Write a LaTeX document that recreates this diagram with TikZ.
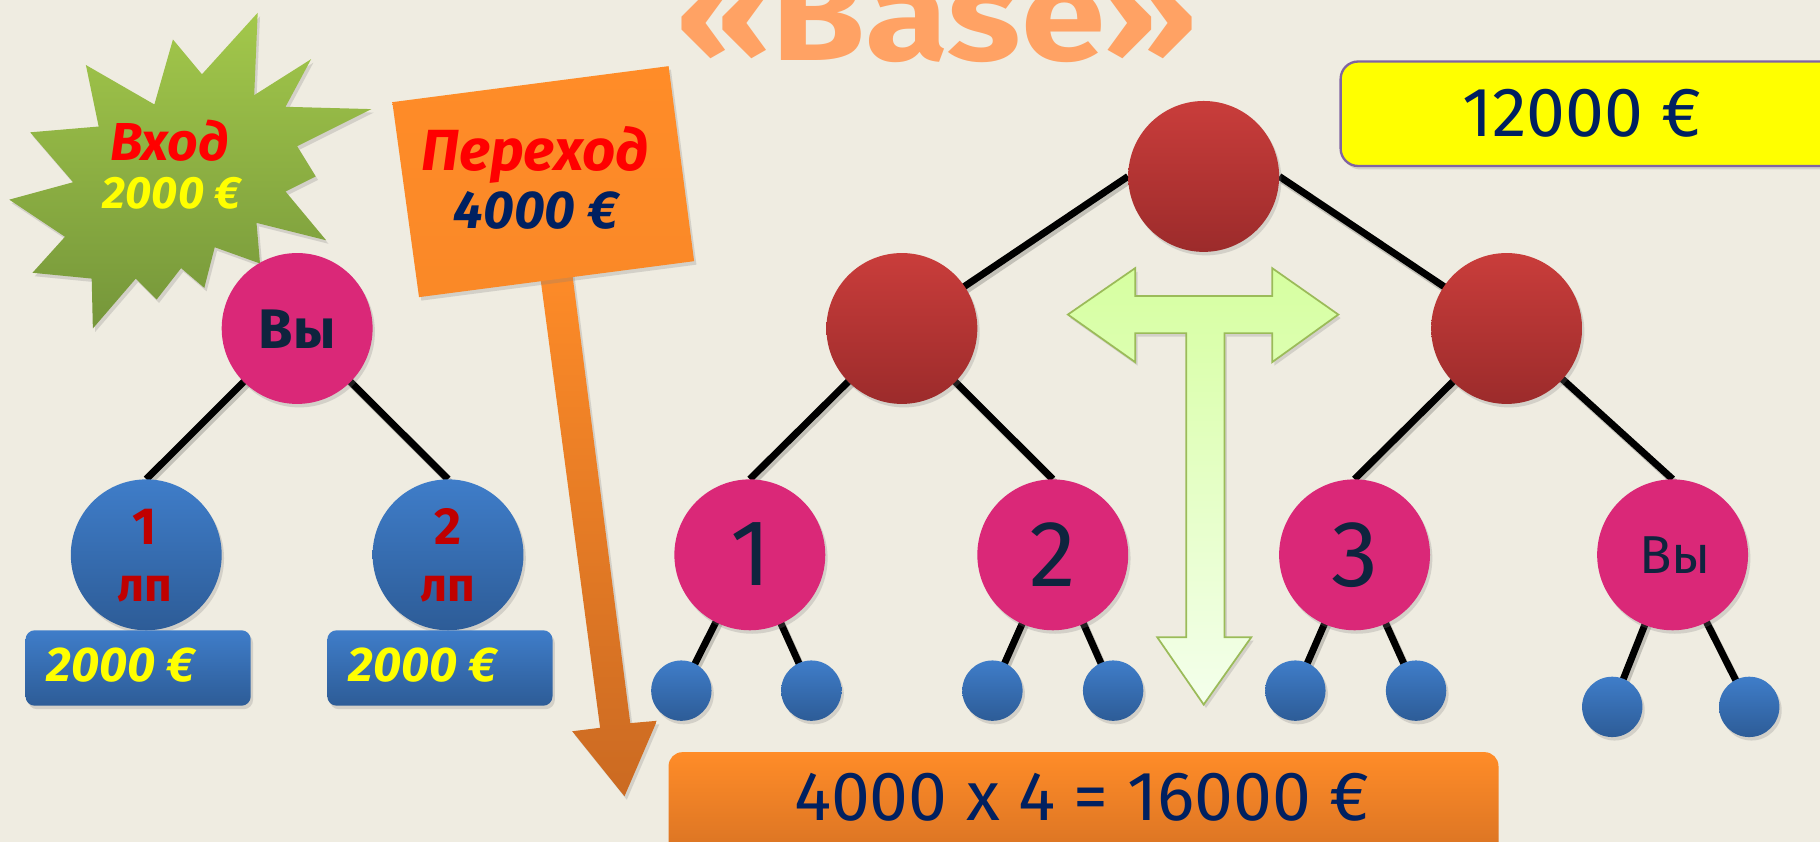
\documentclass[tikz,border=0pt]{standalone}
\usepackage{fontspec}
\setmainfont{Fira Sans}
\usetikzlibrary{shadows}
\definecolor{cBg}{HTML}{EFECE1}
\definecolor{cTitle}{HTML}{FFA264}
\definecolor{cPink}{HTML}{DA2878}
\definecolor{cRedT}{HTML}{C93D3B}
\definecolor{cRedB}{HTML}{9C2B2B}
\definecolor{cBlueT}{HTML}{3F7DC9}
\definecolor{cBlueB}{HTML}{2D5C97}
\definecolor{cNavy}{HTML}{002060}
\definecolor{cDark}{HTML}{0F243E}
\definecolor{cDRed}{HTML}{C00000}
\definecolor{cRed}{HTML}{FF0000}
\definecolor{cYel}{HTML}{FFFF00}
\definecolor{cPurple}{HTML}{8064A2}
\definecolor{cOrT}{HTML}{FF8C28}
\definecolor{cOrB}{HTML}{CB6A22}
\definecolor{cGrT}{HTML}{A3C84B}
\definecolor{cGrB}{HTML}{75963A}
\definecolor{cLgT}{HTML}{D6FFA0}
\definecolor{cLgB}{HTML}{F4FFEC}
\definecolor{cLgLine}{HTML}{9BBB59}
\pgfdeclarelayer{bglayer}
\pgfdeclarelayer{edgelayer}
\pgfsetlayers{bglayer,edgelayer,main}
\begin{document}
\begin{tikzpicture}[x=1pt,y=-1pt,
  myshadow/.style={drop shadow={shadow xshift=2pt,shadow yshift=-3pt,opacity=0.25}},
  edge/.style={line width=6pt,black,preaction={draw=black,opacity=0.18,line width=6pt,transform canvas={shift={(2pt,-3pt)}}}},
  pinkball/.style={circle,inner sep=0pt,minimum size=130pt,fill=cPink,myshadow},
  redball/.style={circle,inner sep=0pt,minimum size=130pt,top color=cRedT,bottom color=cRedB,myshadow},
  blueball/.style={circle,inner sep=0pt,minimum size=130pt,top color=cBlueT,bottom color=cBlueB,myshadow},
  smallball/.style={circle,inner sep=0pt,minimum size=52pt,top color=cBlueT,bottom color=cBlueB,myshadow},
  bluebox/.style={rectangle,rounded corners=8pt,inner sep=0pt,minimum width=194pt,minimum height=65pt,top color=cBlueT,bottom color=cBlueB,myshadow},
  txt/.style={inner sep=0pt,anchor=base}]
\clip (0,0) rectangle (1568,725);
\begin{pgfonlayer}{bglayer}
\fill[cBg] (0,0) rectangle (1568,725);
\node[txt,text=cTitle,font=\bfseries\fontsize{112}{112}\selectfont] (title) at (807,52) {\scalebox{1.17}[1]{«Base»}};
% star
\path[top color=cGrT,bottom color=cGrB,myshadow] (222,11) -- (219,82) -- (268,51) -- (246,92) -- (320,94) -- (256,126) -- (272,152) -- (246,165) -- (281,207) -- (221,192) -- (224,227) -- (185,213) -- (176,248) -- (156,231) -- (135,258) -- (117,240) -- (80,283) -- (79,240) -- (28,235) -- (56,204) -- (8,172) -- (63,157) -- (26,114) -- (85,109) -- (74,56) -- (133,90) -- (149,34) -- (174,64) -- cycle;
\end{pgfonlayer}
\node[txt,text=cRed,font=\bfseries\itshape\fontsize{46}{48}\selectfont] (vhod) at (146,138) {Вход};
\node[txt,text=cYel,font=\bfseries\itshape\fontsize{39}{40}\selectfont] (vhodsum) at (148,180) {2000 €};
% left tree
\node[pinkball] (vyL) at (256,283) {};
\node[blueball] (b1) at (126,478) {};
\node[blueball] (b2) at (386,478) {};
\node[txt,text=cDark,font=\bfseries\fontsize{48}{48}\selectfont] (vyLt) at (256,300) {Вы};
\node[txt,text=cDRed,font=\bfseries\fontsize{45}{45}\selectfont] (b1n) at (125,469) {1};
\node[txt,text=cDRed,font=\bfseries\fontsize{41}{41}\selectfont] (b1l) at (125,518) {лп};
\node[txt,text=cDRed,font=\bfseries\fontsize{45}{45}\selectfont] (b2n) at (386,469) {2};
\node[txt,text=cDRed,font=\bfseries\fontsize{41}{41}\selectfont] (b2l) at (386,518) {лп};
\node[bluebox] (m1) at (119,575.5) {};
\node[bluebox] (m2) at (379,575.5) {};
\node[txt,anchor=base west,text=cYel,font=\bfseries\itshape\fontsize{42}{42}\selectfont] (m1t) at (40,587.5) {2000 €};
\node[txt,anchor=base west,text=cYel,font=\bfseries\itshape\fontsize{42}{42}\selectfont] (m2t) at (300,587.5) {2000 €};
% sign post arrow
\path[top color=cOrT,bottom color=cOrB,myshadow] (463,220) -- (491,220) -- (543,623) -- (566,621) -- (538,686) -- (493,630) -- (517,627) -- cycle;
\path[top color=cOrT,bottom color=cOrT!90!cOrB,myshadow] (338,88) -- (576,57) -- (598,225) -- (361,256) -- cycle;
\node[txt,text=cRed,font=\bfseries\itshape\fontsize{50}{50}\selectfont] (perehod) at (461,146.5) {Переход};
\node[txt,text=cNavy,font=\bfseries\itshape\fontsize{46}{46}\selectfont] (perehodsum) at (462,197) {4000 €};
% right tree
\node[redball] (root) at (1037,152) {};
\node[redball] (rl) at (777,283) {};
\node[redball] (rr) at (1298,283) {};
\node[pinkball] (p1) at (646,478) {};
\node[pinkball] (p2) at (907,478) {};
\node[pinkball] (p3) at (1167,478) {};
\node[pinkball] (p4) at (1441,478) {};
\node[txt,text=cDark,font=\fontsize{81}{81}\selectfont] (p1t) at (647,504) {1};
\node[txt,text=cDark,font=\fontsize{81}{81}\selectfont] (p2t) at (907,505) {2};
\node[txt,text=cDark,font=\fontsize{81}{81}\selectfont] (p3t) at (1167,505) {3};
\node[txt,text=cDark,font=\fontsize{46}{46}\selectfont] (p4t) at (1443,494.5) {Вы};
\node[smallball] (s1) at (587,595) {};
\node[smallball] (s2) at (699,595) {};
\node[smallball] (s3) at (855,595) {};
\node[smallball] (s4) at (959,595) {};
\node[smallball] (s5) at (1116,595) {};
\node[smallball] (s6) at (1220,595) {};
\node[smallball] (s7) at (1389,609) {};
\node[smallball] (s8) at (1507,609) {};
\begin{pgfonlayer}{edgelayer}
\draw[edge] (vyL.center) -- (b1.north);
\draw[edge] (vyL.center) -- (b2.north);
\draw[edge] (root.west) -- (rl.center);
\draw[edge] (root.east) -- (rr.center);
\draw[edge] (rl.center) -- (p1.north);
\draw[edge] (rl.center) -- (p2.north);
\draw[edge] (rr.center) -- (p3.north);
\draw[edge] (rr.center) -- (p4.north);
\draw[edge] (p1.center) -- (s1.center);
\draw[edge] (p1.center) -- (s2.center);
\draw[edge] (p2.center) -- (s3.center);
\draw[edge] (p2.center) -- (s4.center);
\draw[edge] (p3.center) -- (s5.center);
\draw[edge] (p3.center) -- (s6.center);
\draw[edge] (p4.center) -- (s7.center);
\draw[edge] (p4.center) -- (s8.center);
\end{pgfonlayer}
% T arrow
\path[draw=cLgLine,line width=1.5pt,top color=cLgT,bottom color=cLgB,myshadow]
  (920,271) -- (978,231) -- (978,255) -- (1096,255) -- (1096,231) -- (1153,271) -- (1096,312) -- (1096,287) -- (1055,287) -- (1055,549) -- (1078,549) -- (1037,607) -- (997,549) -- (1022,549) -- (1022,287) -- (978,287) -- (978,312) -- cycle;
% boxes
\path[fill=cYel,draw=cPurple,line width=2pt,rounded corners=15pt,myshadow] (1155,53) rectangle (1620,143);
\node[txt,text=cNavy,font=\fontsize{60}{60}\selectfont] (total) at (1363,118) {12000 €};
\path[top color=cOrT,bottom color=cOrB,rounded corners=12pt] (576,648) rectangle (1291,770);
\node[txt,text=cNavy,font=\fontsize{60}{60}\selectfont] (calc) at (932,707) {4000 x 4 = 16000 €};
\end{tikzpicture}
\end{document}
